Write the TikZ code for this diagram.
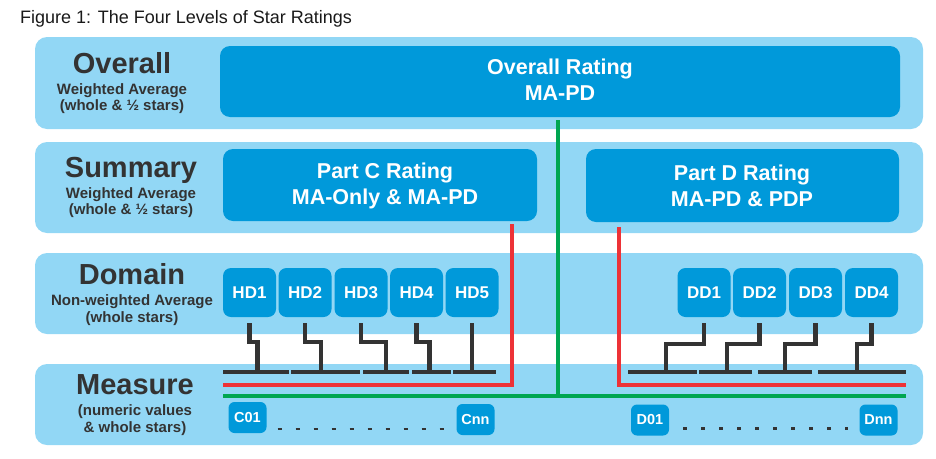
\documentclass[tikz,border=0pt]{standalone}
\usepackage{fontspec}
\setmainfont{Liberation Sans}
\usetikzlibrary{calc}
\definecolor{bandc}{RGB}{146,215,245}
\definecolor{boxc}{RGB}{0,153,218}
\definecolor{greenc}{RGB}{0,166,81}
\definecolor{redc}{RGB}{237,50,55}
\definecolor{blackc}{RGB}{51,51,51}
\definecolor{textc}{RGB}{51,51,51}
\begin{document}
\begin{tikzpicture}[x=1pt,y=-1pt,
  band/.style={fill=bandc, rounded corners=12pt, inner sep=0pt, outer sep=0pt},
  bigbox/.style={fill=boxc, rounded corners=10pt, inner sep=0pt, outer sep=0pt},
  boxtxt/.style={text=white, font=\bfseries\fontsize{21.5}{26}\selectfont, anchor=base, inner sep=0pt},
  dbox/.style={fill=boxc, rounded corners=8pt, text=white, font=\bfseries\fontsize{17}{20}\selectfont, minimum width=53pt, minimum height=49pt, inner sep=0pt, outer sep=0pt},
  mbox/.style={fill=boxc, rounded corners=6pt, text=white, font=\bfseries\fontsize{14.5}{17}\selectfont, minimum width=38pt, minimum height=31pt, inner sep=0pt, outer sep=0pt},
  lvl/.style={text=textc, font=\bfseries\fontsize{29}{32}\selectfont, anchor=base, inner sep=0pt},
  sublvl/.style={text=textc, font=\bfseries\fontsize{15}{17}\selectfont, anchor=base, inner sep=0pt},
  bk/.style={draw=blackc, line width=4.3pt},
  gr/.style={draw=greenc, line width=4pt},
  rd/.style={draw=redc, line width=4.5pt},
  dots/.style={draw=blackc, line width=2.2pt, dash pattern=on 4pt off 14pt}
]
\path[use as bounding box] (0,0) rectangle (936,458);

% title
\node[anchor=base west, inner sep=0pt, font=\fontsize{18}{21}\selectfont, text=black!90] (title) at (20,23) {Figure 1: The Four Levels of Star Ratings};

% bands
\node[band, minimum width=888pt, minimum height=92pt] (b1) at (479,83) {};
\node[band, minimum width=888pt, minimum height=91pt] (b2) at (479,187.5) {};
\node[band, minimum width=888pt, minimum height=81pt] (b3) at (479,293.5) {};
\node[band, minimum width=888pt, minimum height=81pt] (b4) at (479,404.5) {};

% level labels
\node[lvl] (l1) at (122,73) {Overall};
\node[sublvl] (l1a) at (122,94) {Weighted Average};
\node[sublvl] (l1b) at (122,110) {(whole \& ½ stars)};
\node[lvl] (l2) at (131,177) {Summary};
\node[sublvl] (l2a) at (131,198) {Weighted Average};
\node[sublvl] (l2b) at (131,214) {(whole \& ½ stars)};
\node[lvl] (l3) at (132,284) {Domain};
\node[sublvl] (l3a) at (132,305) {Non-weighted Average};
\node[sublvl] (l3b) at (132,322) {(whole stars)};
\node[lvl] (l4) at (135,394) {Measure};
\node[sublvl] (l4a) at (135,415) {(numeric values};
\node[sublvl] (l4b) at (135,432) {\& whole stars)};

% big boxes
\node[bigbox, minimum width=680pt, minimum height=71pt] (ov) at (560,81.5) {};
\node[boxtxt] (ovt1) at (560,74) {Overall Rating};
\node[boxtxt] (ovt2) at (560,100) {MA-PD};
\node[bigbox, minimum width=314pt, minimum height=72pt] (pc) at (380,185) {};
\node[boxtxt] (pct1) at (385,178) {Part C Rating};
\node[boxtxt] (pct2) at (385,204) {MA-Only \& MA-PD};
\node[bigbox, minimum width=313pt, minimum height=73pt] (pd) at (742.5,185.5) {};
\node[boxtxt] (pdt1) at (742,180) {Part D Rating};
\node[boxtxt] (pdt2) at (742,206) {MA-PD \& PDP};

% domain boxes
\node[dbox] (hd1) at (249.5,292.5) {HD1};
\node[dbox] (hd2) at (305,292.5) {HD2};
\node[dbox] (hd3) at (361,292.5) {HD3};
\node[dbox] (hd4) at (416.5,292.5) {HD4};
\node[dbox] (hd5) at (472,292.5) {HD5};
\node[dbox] (dd1) at (704,292.5) {DD1};
\node[dbox] (dd2) at (759.5,292.5) {DD2};
\node[dbox] (dd3) at (815.5,292.5) {DD3};
\node[dbox] (dd4) at (871.5,292.5) {DD4};

% measure boxes
\node[mbox] (c01) at (247.5,417.5) {C01};
\node[mbox] (cnn) at (475.5,419.5) {Cnn};
\node[mbox] (d01) at (650,420) {D01};
\node[mbox] (dnn) at (878.5,420) {Dnn};
\coordinate (cd1) at ([xshift=11pt,yshift=4pt]c01.south east);
\coordinate (cd2) at ($(cd1 -| cnn.west)+(-13,0)$);
\coordinate (dd1s) at ([xshift=14pt,yshift=7pt]d01.south east);
\coordinate (dd2s) at ($(dd1s -| dnn.west)+(-12,0)$);
\draw[dots] (cd1) -- (cd2);
\draw[dots] (dd1s) -- (dd2s);

% black bus segments
\coordinate (s1a) at (223,372); \coordinate (s1b) at (289,372);
\coordinate (s2a) at (291,372); \coordinate (s2b) at (360,372);
\coordinate (s3a) at (363,372); \coordinate (s3b) at (409,372);
\coordinate (s4a) at (412,372); \coordinate (s4b) at (451,372);
\coordinate (s5a) at (453,372); \coordinate (s5b) at (496,372);
\coordinate (t1a) at (628,372); \coordinate (t1b) at (697,372);
\coordinate (t2a) at (699,372); \coordinate (t2b) at (752,372);
\coordinate (t3a) at (758,372); \coordinate (t3b) at (812,372);
\coordinate (t4a) at (818,372); \coordinate (t4b) at (906,372);
\foreach \a/\b in {s1a/s1b,s2a/s2b,s3a/s3b,s4a/s4b,s5a/s5b,t1a/t1b,t2a/t2b,t3a/t3b,t4a/t4b}
  \draw[bk] (\a) -- (\b);

% black connectors
\draw[bk] ([yshift=-6pt]hd1.south) -- ++(0,19) -- ++(8,0) -- ++(0,31);
\draw[bk] ([yshift=-6pt]hd2.south) -- ++(0,19) -- ++(16,0) -- ++(0,31);
\draw[bk] ([yshift=-6pt]hd3.south) -- ++(0,19) -- ++(25,0) -- ++(0,31);
\draw[bk] ([yshift=-6pt]hd4.south) -- ++(0,19) -- ++(13,0) -- ++(0,31);
\draw[bk] ([yshift=-6pt]hd5.south) -- ++(0,50);
\draw[bk] ([yshift=-6pt]dd1.south) -- ++(0,21) -- ++(-38,0) -- ++(0,29);
\draw[bk] ([yshift=-6pt]dd2.south) -- ++(0,21) -- ++(-32.5,0) -- ++(0,29);
\draw[bk] ([yshift=-6pt]dd3.south) -- ++(0,21) -- ++(-30.5,0) -- ++(0,29);
\draw[bk] ([yshift=-6pt]dd4.south) -- ++(0,21) -- ++(-14.5,0) -- ++(0,29);

% red lines
\coordinate (rl) at (223,385);
\coordinate (rr) at (906,385);
\draw[rd] ([xshift=-25pt,yshift=-3pt]pc.south east) |- (rl);
\draw[rd] ([xshift=33pt,yshift=-5pt]pd.south west) |- (rr);

% green lines
\coordinate (gl) at (223,396);
\coordinate (gr) at (906,396);
\draw[gr] (gl) -- (gr);
\draw[gr] ([xshift=-2pt,yshift=-3pt]ov.south) -- ([xshift=-2pt]ov.south |- gl);
\end{tikzpicture}
\end{document}
